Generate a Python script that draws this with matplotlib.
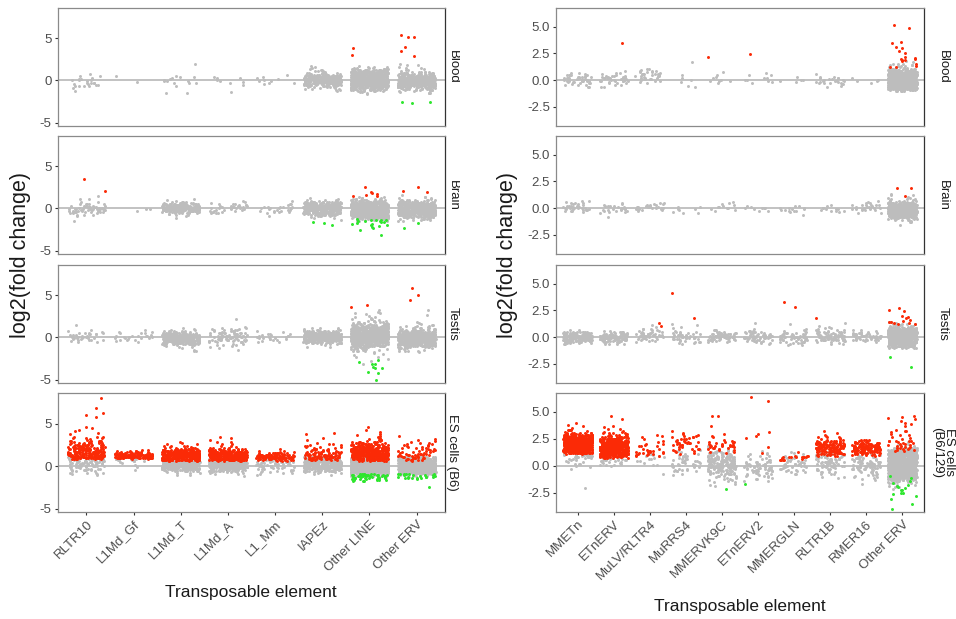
import numpy as np
import matplotlib.pyplot as plt

plt.rcParams['font.family'] = ['Liberation Sans', 'DejaVu Sans']

W, H = 956, 619

LEFT_CATS = ["RLTR10", "L1Md_Gf", "L1Md_T", "L1Md_A", "L1_Mm", "IAPEz", "Other LINE", "Other ERV"]
RIGHT_CATS = ["MMETn", "ETnERV", "MuLV/RLTR4", "MuRRS4", "MMERVK9C", "ETnERV2",
              "MMERGLN", "RLTR1B", "RMER16", "Other ERV"]
LEFT_ROWS = ["Blood", "Brain", "Testis", "ES cells (B6)"]
RIGHT_ROWS = ["Blood", "Brain", "Testis", "ES cells\n(B6/129)"]

# point clouds as (lowest bin, counts per bin); bin height below
LEFT_STEP = 0.25
RIGHT_STEP = 0.2

# ---------------- left panel ----------------
L_BLOOD_GRAY = [
    (-1.25, [1, 1, 3, 4, 5, 4, 4, 2, 1]),
    (-0.25, [1, 0, 0, 1]),
    (-1.5, [2, 0, 0, 0, 1, 3, 4, 3, 2, 0, 0, 0, 0, 0, 1]),
    (-1.25, [1, 0, 0, 1, 2, 2, 2, 1]),
    (-0.5, [1, 2, 3, 2, 2]),
    (-1.25, [2, 4, 10, 30, 55, 62, 58, 40, 15, 6, 4, 3, 1]),
    (-1.5, [3, 8, 25, 60, 85, 90, 90, 88, 78, 70, 55, 25, 6, 2]),
    (-1.5, [4, 6, 14, 40, 70, 85, 88, 78, 55, 25, 10, 4, 3, 2, 1]),
]
L_BLOOD_RED = [[], [], [], [], [], [], [3.8, 3.0], [2.9, 3.5, 5.1, 5.2, 4.0, 5.4]]
L_BLOOD_GREEN = [[], [], [], [], [], [], [], [-2.5, -2.55, -2.65]]

L_BRAIN_GRAY = [
    (-1.5, [1, 0, 1, 3, 8, 12, 14, 10, 5, 2, 1, 1, 1]),
    (-0.25, [1, 2]),
    (-1.0, [1, 3, 12, 48, 62, 55, 32, 8, 2]),
    (-0.5, [4, 8, 10, 8, 6, 2]),
    (-0.75, [1, 3, 6, 7, 5, 3, 1]),
    (-1.25, [2, 5, 18, 48, 62, 62, 58, 48, 25, 5, 1]),
    (-1.5, [4, 18, 48, 78, 90, 90, 90, 85, 70, 45, 18, 5]),
    (-1.5, [3, 6, 25, 55, 78, 85, 80, 70, 55, 30, 10, 4, 2]),
]
L_BRAIN_RED = [[2.1, 3.5], [], [], [], [], [],
               [2.6, 1.8, 1.75, 1.95, 1.5, 1.65, 1.5], [2.5, 2.0, 2.05]]
L_BRAIN_GREEN = [[], [], [], [], [], [-1.7, -1.6, -2.0],
                 [-1.4, -1.5, -1.8, -2.0, -2.3, -2.6, -3.1, -1.6, -1.9, -2.1,
                  -1.35, -1.4, -1.5, -1.3, -1.7, -2.0, -1.45, -1.55, -2.2, -1.4],
                 [-1.7, -2.3]]

L_TESTIS_GRAY = [
    (-0.5, [3, 6, 9, 8, 5, 2, 1, 0, 1]),
    (-0.5, [2, 4, 7, 6, 4, 2]),
    (-1.5, [3, 2, 4, 26, 55, 62, 62, 55, 32, 8, 2]),
    (-1.5, [1, 1, 2, 5, 10, 15, 18, 16, 12, 8, 5, 2, 0, 0, 0, 1]),
    (-0.5, [3, 5, 6, 5, 3, 2]),
    (-1.0, [2, 8, 32, 55, 62, 58, 48, 26, 6]),
    (-3.0, [1, 1, 1, 2, 2, 3, 6, 12, 26, 48, 75, 85, 90, 90, 85, 75, 60, 40, 22, 10,
            6, 4, 3, 2, 2, 1]),
    (-1.75, [2, 4, 8, 26, 62, 75, 82, 80, 70, 55, 32, 14, 5, 3, 2, 1, 0, 0, 1, 0, 1]),
]
L_TESTIS_RED = [[], [], [], [], [], [], [3.6, 3.9], [5.0, 4.4, 5.9]]
L_TESTIS_GREEN = [[], [], [], [], [], [],
                  [-5.0, -4.1, -4.2, -3.5, -3.1, -2.9, -3.2, -3.6, -3.6, -2.7], []]

L_ES_GRAY = [
    (-1.0, [2, 5, 8, 10, 12, 12, 14, 15, 14]),
    (-0.5, [1, 1, 0, 2, 3, 8, 15]),
    (-1.0, [2, 4, 18, 48, 62, 62, 62, 55]),
    (-1.0, [3, 6, 22, 48, 58, 58, 55, 48, 32]),
    (-1.0, [2, 4, 6, 8, 10, 12, 12, 12, 10]),
    (-1.0, [2, 6, 25, 48, 55, 55, 52, 48, 32]),
    (-1.25, [3, 25, 62, 82, 90, 90, 85, 82, 75, 55]),
    (-1.25, [3, 18, 55, 75, 82, 82, 80, 75, 62, 40]),
]
L_ES_RED_CLOUD = [
    (1.0, [35, 35, 32, 28, 24, 20, 15, 10, 7, 4, 3]),
    (1.0, [45, 60, 32, 6]),
    (0.75, [40, 75, 75, 68, 55, 20, 6, 3, 2]),
    (0.75, [35, 68, 68, 62, 48, 15, 4, 2, 2, 1, 1, 1]),
    (0.75, [14, 40, 40, 15, 2, 1]),
    (0.75, [15, 20, 20, 15, 12, 8, 5, 3, 2, 1, 1, 0, 1, 1]),
    (0.75, [32, 55, 62, 62, 55, 48, 36, 22, 12, 5, 3, 2, 2, 1, 1, 1]),
    (0.75, [8, 10, 10, 8, 7, 6, 5, 4, 3, 2, 1, 1]),
]
L_ES_RED = [[6.3, 6.0, 4.5, 8.0, 6.8, 5.8, 4.6, 4.1, 3.9, 4.2, 3.8], [], [], [], [], [], [], []]
L_ES_GREEN_CLOUD = [None, None, None, None, None, None, (-1.75, [4, 10, 15, 18]), (-1.5, [5, 8, 10])]
L_ES_GREEN = [[], [], [], [], [], [], [], [-2.5]]

# ---------------- right panel ----------------
R_BLOOD_GRAY = [
    (-0.6, [2, 4, 7, 10, 10, 8, 3]),
    (-0.6, [2, 2, 4, 10, 12, 7, 3, 1]),
    (-0.2, [2, 4, 6, 7, 6, 6, 3]),
    (-0.6, [2, 0, 1, 1, 1, 1, 0, 0, 0, 0, 0, 1]),
    (-0.2, [2, 3, 2, 1, 0, 1]),
    (-0.2, [2, 3, 2, 2, 1]),
    (-0.2, [1, 3, 1]),
    (-0.6, [2, 4, 6, 6, 4, 2, 1]),
    (-0.2, [2, 2, 1]),
    (-1.0, [10, 48, 70, 76, 76, 76, 76, 76, 70, 55, 22, 8, 4, 3, 2]),
]
R_BLOOD_RED = [[], [3.5], [], [], [2.2], [2.4], [], [], [],
               [4.9, 5.15, 3.6, 3.5, 3.1, 2.5, 2.1, 1.9, 1.8, 2.2, 3.0, 2.7,
                1.9, 1.95, 2.0, 1.3, 1.2, 1.25, 1.5]]
R_BLOOD_GREEN = [[], [], [], [], [], [], [], [], [], []]

R_BRAIN_GRAY = [
    (-0.4, [3, 6, 10, 8, 6, 3]),
    (-0.8, [1, 0, 3, 6, 8, 6, 2]),
    (-0.2, [5, 10, 8, 4]),
    (-0.4, [3, 2, 3]),
    (-0.2, [2, 4, 3, 2, 1]),
    (-0.2, [2, 5, 2]),
    (-0.6, [1, 2, 4, 5, 2]),
    (-0.4, [2, 3, 5, 2]),
    (-0.4, [2, 4, 8, 7, 4, 2]),
    (-1.6, [1, 1, 3, 12, 48, 70, 76, 76, 76, 70, 48, 12, 5, 3, 2, 1]),
]
R_BRAIN_RED = [[], [], [], [], [], [], [], [], [], [1.9, 1.85, 1.15]]
R_BRAIN_GREEN = [[], [], [], [], [], [], [], [], [], []]

R_TESTIS_GRAY = [
    (-0.6, [6, 20, 40, 48, 40, 20, 3, 1]),
    (-0.6, [4, 12, 25, 28, 22, 10, 2]),
    (-0.4, [3, 6, 10, 12, 8, 5, 3, 1, 1]),
    (-0.6, [3, 5, 8, 10, 8, 5, 2, 1, 1, 2]),
    (-0.4, [6, 12, 18, 15, 10, 3]),
    (-0.6, [3, 6, 10, 14, 12, 8, 3, 1, 0, 1]),
    (-0.8, [2, 4, 8, 12, 14, 10, 6, 3, 1, 0, 1]),
    (-0.6, [3, 8, 14, 16, 14, 10, 6, 4, 2, 1]),
    (-0.4, [4, 10, 14, 12, 8, 3]),
    (-1.0, [6, 48, 70, 76, 76, 76, 76, 72, 62, 40, 12, 5, 3]),
]
R_TESTIS_RED = [[], [], [1.3, 1.0], [1.8, 4.1], [], [], [2.8, 3.3], [1.8], [],
                [2.7, 2.4, 2.0, 2.5, 1.9, 1.8, 1.6, 1.5, 1.4, 1.3, 1.3, 1.2, 1.45, 1.25]]
R_TESTIS_GREEN = [[], [], [], [], [], [], [], [], [], [-2.8, -1.9]]

R_ES_GRAY = [
    (-2.0, [1, 0, 0, 0, 0, 0, 0, 0, 1, 0, 2, 3, 3, 6, 10, 15]),
    (0.0, [3, 4, 6, 8, 10]),
    (-0.8, [1, 0, 0, 0, 1, 2, 2, 3, 3, 3]),
    (-0.8, [2, 3, 4, 5, 5, 6, 6, 5, 4, 3, 2, 2]),
    (-1.8, [2, 3, 3, 4, 6, 8, 10, 14, 18, 22, 24, 22, 20, 16, 12, 8, 5, 3, 2]),
    (-1.4, [2, 3, 4, 6, 7, 9, 10, 10, 8, 6, 4, 3, 2, 1, 1]),
    (-0.8, [2, 3, 4, 5, 6, 6, 5, 4, 3, 2, 2]),
    (-1.2, [1, 2, 3, 4, 5, 6, 8, 9, 10, 10, 9, 8, 6]),
    (-1.6, [1, 1, 2, 3, 4, 6, 8, 10, 10, 10, 9, 8, 6, 4, 2]),
    (-2.2, [1, 2, 3, 6, 12, 40, 62, 76, 76, 76, 76, 76, 76, 76, 76, 76, 70, 62, 40, 12, 4, 2, 1]),
]
R_ES_RED_CLOUD = [
    (1.2, [35, 62, 76, 76, 76, 76, 70, 55, 32, 14, 4, 2, 2, 1, 1]),
    (0.8, [20, 42, 55, 55, 55, 52, 48, 42, 30, 20, 10, 4, 3, 2, 1, 1, 0, 1, 0, 1]),
    (1.0, [6, 8, 4, 2, 3, 3, 2, 1, 1, 2]),
    (1.2, [3, 3, 4, 5, 6, 6, 5, 4, 3, 2, 1]),
    (1.2, [2, 3, 5, 8, 6, 4, 2, 1, 1, 1]),
    None,
    (0.6, [5, 12]),
    (1.0, [8, 15, 22, 25, 24, 20, 14, 8, 4, 2, 1, 1]),
    (1.0, [8, 14, 20, 22, 22, 18, 10, 4]),
    (1.4, [4, 5, 5, 4, 4, 3, 3, 2, 2, 2, 1, 1, 1, 1, 1, 1]),
]
R_ES_RED = [[], [], [], [], [4.6, 4.6, 3.7], [6.0, 6.4, 3.1, 2.8, 2.6, 1.7, 1.2, 2.9],
            [1.3], [], [], [4.6, 4.5, 4.3]]
R_ES_GREEN = [[], [], [], [], [-2.2], [-1.7], [], [], [],
              [-1.0, -1.1, -1.4, -1.6, -1.8, -2.0, -2.1, -2.3, -2.5, -2.3, -3.1,
               -3.6, -4.0, -1.9, -2.6, -2.8, -2.5]]

LEFT_FACETS = [
    (L_BLOOD_GRAY, None, L_BLOOD_RED, None, L_BLOOD_GREEN),
    (L_BRAIN_GRAY, None, L_BRAIN_RED, None, L_BRAIN_GREEN),
    (L_TESTIS_GRAY, None, L_TESTIS_RED, None, L_TESTIS_GREEN),
    (L_ES_GRAY, L_ES_RED_CLOUD, L_ES_RED, L_ES_GREEN_CLOUD, L_ES_GREEN),
]
RIGHT_FACETS = [
    (R_BLOOD_GRAY, None, R_BLOOD_RED, None, R_BLOOD_GREEN),
    (R_BRAIN_GRAY, None, R_BRAIN_RED, None, R_BRAIN_GREEN),
    (R_TESTIS_GRAY, None, R_TESTIS_RED, None, R_TESTIS_GREEN),
    (R_ES_GRAY, R_ES_RED_CLOUD, R_ES_RED, None, R_ES_GREEN),
]

GREY = "#bdbdbd"
RED = "#fb2a06"
GREEN = "#2ee62e"
PT = 4.6


def jit(k, s):
    # deterministic hash jitter in [-0.5, 0.5), like position_jitter
    v = np.sin(k * 12.9898 + s * 78.233) * 43758.5453
    return v - np.floor(v) - 0.5


def cloud(i, spec, step, seed):
    xs, ys = [], []
    if spec is None:
        return xs, ys
    lo, counts = spec
    k = 0
    for j, c in enumerate(counts):
        for _ in range(c):
            xs.append(i + 0.8 * jit(k, seed))
            ys.append(lo + j * step + step * jit(k, seed + 3.1))
            k += 1
    return xs, ys


def points(i, vals, seed):
    xs = [i + 0.8 * jit(k, seed) for k in range(len(vals))]
    return xs, list(vals)


def px_axes(fig, x0, x1, y0, y1):
    return fig.add_axes([x0 / W, 1 - y1 / H, (x1 - x0) / W, (y1 - y0) / H])


ROWS_PX = [(8, 126), (136, 254), (265, 383), (393, 512)]

fig = plt.figure(figsize=(W / 100, H / 100), dpi=100)


def draw_panel(cats, facets, rows, x0, x1, strip_x1, strip_pos, step, ylim, yticks, yticklabels):
    n = len(cats)
    for r, (gray, red_c, red_p, green_c, green_p) in enumerate(facets):
        y0, y1 = ROWS_PX[r]
        ax = px_axes(fig, x0, x1, y0, y1)
        ax.axhline(0, color=GREY, lw=1.3, zorder=1)
        layers = [(gray, None, GREY), (red_c, red_p, RED), (green_c, green_p, GREEN)]
        for li, (cl, pl, col) in enumerate(layers):
            xs, ys = [], []
            for i in range(n):
                s = 1.3 * (i + 1) + 2.9 * li + 0.7 * r + 10 * x0
                if cl is not None:
                    a, b = cloud(i + 1, cl[i], step, s)
                    xs += a
                    ys += b
                if pl is not None:
                    a, b = points(i + 1, pl[i], s + 0.41)
                    xs += a
                    ys += b
            ax.scatter(xs, ys, s=PT, color=col, linewidths=0, zorder=2 + li)
        ax.set_xlim(0.4, n + 0.6)
        ax.set_ylim(*ylim)
        ax.set_yticks(yticks)
        ax.set_yticklabels(yticklabels)
        ax.set_xticks(range(1, n + 1))
        for sp in ax.spines.values():
            sp.set_color("#8a8a8a")
            sp.set_linewidth(0.9)
        ax.spines["right"].set_color("#333333")
        ax.tick_params(axis="y", length=2.5, width=0.8, color="#333333",
                       labelsize=9.5, labelcolor="#4d4d4d", pad=2)
        if r == 3:
            ax.set_xticklabels(cats, rotation=45, ha="right", rotation_mode="anchor")
            ax.tick_params(axis="x", length=2.5, width=0.8, color="#333333",
                           labelsize=9.5, labelcolor="#4d4d4d", pad=2)
        else:
            ax.tick_params(axis="x", length=0, labelbottom=False)
        # strip on the right, cut by the image edge as in the source
        sax = px_axes(fig, x1, strip_x1, y0, y1)
        sax.axis("off")
        sax.text(strip_pos, 0.5, rows[r], rotation=-90,
                 ha="center", va="center", fontsize=9.5, color="#1a1a1a",
                 transform=sax.transAxes, clip_on=True, linespacing=1.0)


draw_panel(LEFT_CATS, LEFT_FACETS, LEFT_ROWS, 58, 445, 460, 0.5, LEFT_STEP,
           (-5.4, 8.6), [-5, 0, 5], ["-5", "0", "5"])
draw_panel(RIGHT_CATS, RIGHT_FACETS, RIGHT_ROWS, 556, 924, 956, 0.6, RIGHT_STEP,
           (-4.3, 6.75), [-2.5, 0, 2.5, 5], ["-2.5", "0.0", "2.5", "5.0"])

fig.text(21 / W, 1 - 255 / H, "log2(fold change)", rotation=90, ha="center", va="center",
         fontsize=15.5, color="#1a1a1a")
fig.text(507 / W, 1 - 255 / H, "log2(fold change)", rotation=90, ha="center", va="center",
         fontsize=15.5, color="#1a1a1a")
fig.text(251 / W, 1 - 593 / H, "Transposable element", ha="center", va="center",
         fontsize=12.5, color="#1a1a1a")
fig.text(740 / W, 1 - 606 / H, "Transposable element", ha="center", va="center",
         fontsize=12.5, color="#1a1a1a")

fig.savefig("out.png", dpi=100)
